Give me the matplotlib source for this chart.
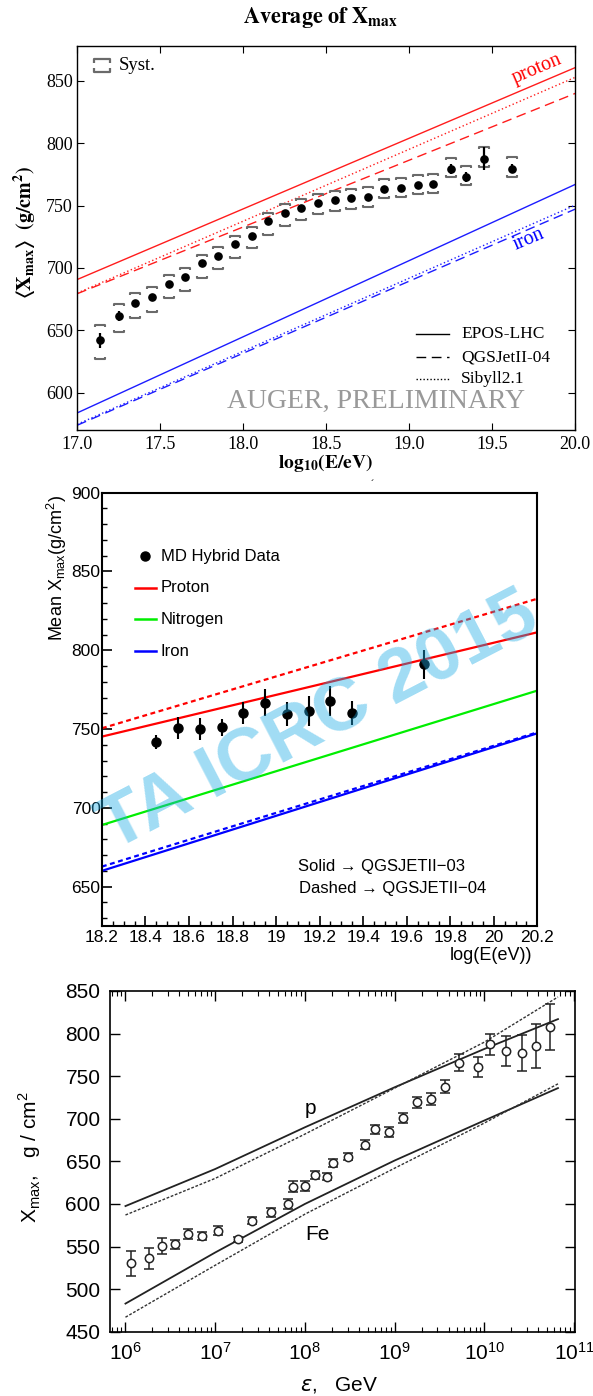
import numpy as np
import matplotlib
matplotlib.use("Agg")
import matplotlib.pyplot as plt
from matplotlib.path import Path
from matplotlib.lines import Line2D
from matplotlib.ticker import MultipleLocator, LogLocator, NullFormatter

plt.rcParams['font.family'] = ['Liberation Sans', 'DejaVu Sans']
SERIF = ['Liberation Serif', 'DejaVu Serif']

# ---------------- Auger: average Xmax ----------------
auger_lgE = [17.14, 17.25, 17.35, 17.45, 17.55, 17.65, 17.75, 17.85, 17.95, 18.05,
             18.15, 18.25, 18.35, 18.45, 18.55, 18.65, 18.75, 18.85, 18.95, 19.05,
             19.14, 19.25, 19.34, 19.45, 19.62]
auger_xmax = [641.8, 661.3, 672.0, 676.8, 687.0, 693.1, 703.6, 709.7, 718.8, 726.0,
              737.6, 744.3, 748.0, 752.3, 754.4, 756.0, 757.0, 763.5, 764.3, 766.2,
              767.0, 779.3, 773.2, 787.6, 779.6]
auger_stat = [6, 4, 2.5, 2.5, 2, 2, 2, 2, 2, 2, 2, 2, 2, 2, 2, 2, 2, 2, 2, 2.5,
              2.5, 4, 4, 9, 3.5]
auger_syst_hi = [654, 670.7, 680, 684.3, 694, 700, 710.3, 716.7, 725.8, 733,
                 744, 751, 755, 759.3, 761.4, 763.5, 764.6, 771, 771.8, 774.2,
                 775, 788, 781.5, 797, 789.2]
auger_syst_lo = [627, 648.7, 660, 664.8, 675.5, 681.6, 692.3, 698.8, 708, 715.6,
                 726.6, 733.3, 738.6, 743.5, 745.6, 747.5, 749, 755.8, 757, 759.3,
                 759.8, 772.6, 766.2, 781.2, 772.6]
auger_model_E = [17.0, 20.0]
proton_epos = [690.7, 860.7]
proton_qgsjet = [679.3, 840.0]
proton_sibyll = [679.8, 852.9]
iron_epos = [583.7, 767.0]
iron_qgsjet = [573.8, 747.2]
iron_sibyll = [574.6, 750.4]
auger_xticks = [17.0, 17.5, 18.0, 18.5, 19.0, 19.5, 20.0]
auger_xticklabels = ['17.0', '17.5', '18.0', '18.5', '19.0', '19.5', '20.0']
auger_yticks = [600, 650, 700, 750, 800, 850]
auger_yticklabels = ['600', '650', '700', '750', '800', '850']
auger_models = ['EPOS-LHC', 'QGSJetII-04', 'Sibyll2.1']

# ---------------- TA: mean Xmax ----------------
ta_lgE = [18.45, 18.55, 18.65, 18.75, 18.85, 18.95, 19.05, 19.15, 19.25, 19.35, 19.68]
ta_xmax = [742.0, 750.5, 750.0, 751.0, 760.0, 766.8, 759.6, 761.3, 768.0, 760.0, 791.0]
ta_err = [4.5, 7, 7, 5.5, 7, 8.5, 7.5, 9.5, 9.5, 7.5, 9]
ta_model_E = [18.2, 20.2]
ta_proton_03 = [745.2, 811.4]
ta_proton_04 = [750.5, 832.7]
ta_nitrogen_03 = [689.1, 774.4]
ta_iron_03 = [660.0, 747.3]
ta_iron_04 = [662.7, 747.9]
ta_xticks = [18.2, 18.4, 18.6, 18.8, 19.0, 19.2, 19.4, 19.6, 19.8, 20.0, 20.2]
ta_xticklabels = ['18.2', '18.4', '18.6', '18.8', '19', '19.2', '19.4', '19.6',
                  '19.8', '20', '20.2']
ta_yticks = [650, 700, 750, 800, 850, 900]
ta_yticklabels = ['650', '700', '750', '800', '850', '900']
ta_species = ['Proton', 'Nitrogen', 'Iron']

# ---------------- Xmax vs energy (GeV) ----------------
eps_lgE = [6.064, 6.259, 6.412, 6.552, 6.692, 6.857, 7.031, 7.252, 7.409, 7.621,
           7.808, 7.868, 8.003, 8.11, 8.241, 8.317, 8.475, 8.666, 8.78, 8.937,
           9.09, 9.247, 9.404, 9.557, 9.722, 9.926, 10.062, 10.236, 10.414, 10.58,
           10.733]
eps_xmax = [530.2, 536.0, 550.6, 552.5, 564.7, 562.7, 568.6, 558.4, 580.3, 590.1,
            599.9, 620.3, 621.4, 634.3, 632.0, 648.4, 655.5, 669.6, 687.6, 684.4,
            700.5, 719.3, 722.8, 737.7, 765.9, 761.2, 787.4, 779.5, 777.6, 785.4,
            808.1]
eps_err = [15, 12, 9, 5.5, 5.7, 4.5, 5, 3, 4, 5,
           6, 6.7, 5.7, 4.5, 4, 4.7, 4.5, 5.5, 5.3, 5.9,
           5.9, 6.8, 7, 7.8, 9.8, 11.7, 12.7, 17.6, 21, 26,
           27]
eps_model_lgE = [6.0, 7.0, 8.0, 9.0, 10.0, 10.82]
eps_p_solid = [597.5, 641.0, 690.0, 737.0, 782.0, 817.0]
eps_p_dotted = [587.0, 630.0, 682.0, 736.0, 790.0, 843.0]
eps_fe_solid = [483.0, 543.0, 600.0, 651.0, 698.0, 736.0]
eps_fe_dotted = [467.0, 528.0, 588.0, 642.0, 695.0, 741.0]
eps_xticks = [1e6, 1e7, 1e8, 1e9, 1e10, 1e11]
eps_xticklabels = [r'$\mathregular{10^{6}}$', r'$\mathregular{10^{7}}$',
                   r'$\mathregular{10^{8}}$', r'$\mathregular{10^{9}}$',
                   r'$\mathregular{10^{10}}$', r'$\mathregular{10^{11}}$']
eps_yticks = [450, 500, 550, 600, 650, 700, 750, 800, 850]
eps_yticklabels = ['450', '500', '550', '600', '650', '700', '750', '800', '850']

W, H = 593, 1396
fig = plt.figure(figsize=(W / 100, H / 100), dpi=100)


def box(l, t, r, b):
    return [l / W, 1 - b / H, (r - l) / W, (b - t) / H]


def fx(x):
    return x / W


def fy(y):
    return 1 - y / H


# =============== panel 1 ===============
ax1 = fig.add_axes(box(77.2, 46, 575.3, 430))
ax1.set_xlim(17.0, 20.0)
ax1.set_ylim(570, 878)
ax1.set_xticks(auger_xticks, auger_xticklabels, family=SERIF, fontsize=13)
ax1.set_yticks(auger_yticks, auger_yticklabels, family=SERIF, fontsize=13)
ax1.tick_params(direction='in', length=5, width=0.8, top=True, right=True)
ax1.tick_params(axis='x', pad=4)
ax1.tick_params(axis='y', pad=3)
for s in ax1.spines.values():
    s.set_linewidth(1.0)

red = '#ff1c1c'
blue = '#1c1cff'
ax1.plot(auger_model_E, proton_epos, color=red, lw=1.0)
ax1.plot(auger_model_E, proton_qgsjet, color=red, lw=1.0, dashes=(7, 4))
ax1.plot(auger_model_E, proton_sibyll, color=red, lw=1.0, dashes=(1, 1.8))
ax1.plot(auger_model_E, iron_epos, color=blue, lw=1.0)
ax1.plot(auger_model_E, iron_qgsjet, color=blue, lw=1.0, dashes=(7, 4))
ax1.plot(auger_model_E, iron_sibyll, color=blue, lw=1.0, dashes=(1, 1.8))

top_bracket = Path([(-1, -0.5), (-1, 0), (1, 0), (1, -0.5)],
                   [Path.MOVETO, Path.LINETO, Path.LINETO, Path.LINETO])
bot_bracket = Path([(-1, 0.5), (-1, 0), (1, 0), (1, 0.5)],
                   [Path.MOVETO, Path.LINETO, Path.LINETO, Path.LINETO])
syst_col = '#6a6a6a'
ax1.plot(auger_lgE, auger_syst_hi, ls='none', marker=top_bracket, ms=7,
         mfc='none', mec=syst_col, mew=1.5)
ax1.plot(auger_lgE, auger_syst_lo, ls='none', marker=bot_bracket, ms=7,
         mfc='none', mec=syst_col, mew=1.5)
ax1.errorbar(auger_lgE, auger_xmax, yerr=auger_stat, fmt='o', color='black',
             ms=5.2, elinewidth=1.6, capsize=0, zorder=5)

# systematic legend entry
ax1.plot([0.05], [0.966], transform=ax1.transAxes, marker=top_bracket, ms=12,
         mfc='none', mec=syst_col, mew=1.6, ls='none', clip_on=False)
ax1.plot([0.05], [0.933], transform=ax1.transAxes, marker=bot_bracket, ms=12,
         mfc='none', mec=syst_col, mew=1.6, ls='none', clip_on=False)
fig.text(fx(119), fy(66), 'Syst.', family=SERIF, fontsize=13.5, va='center')

# model legend
for name, yy, style in zip(auger_models, [334, 357, 379],
                           [dict(), dict(dashes=(7, 4)), dict(dashes=(1, 1.5))]):
    fig.add_artist(Line2D([fx(415.6), fx(448.7)], [fy(yy), fy(yy)], color='black',
                          lw=1.0, **style))
    fig.text(fx(461), fy(yy), name, family=SERIF, fontsize=12.5, va='center')

fig.text(fx(537), fy(69), 'proton', family=SERIF, fontsize=14.5, color='red',
         rotation=23, ha='center', va='center')
fig.text(fx(529), fy(240), 'iron', family=SERIF, fontsize=14.5, color='blue',
         rotation=23, ha='center', va='center')
fig.text(fx(375.7), fy(401), 'AUGER, PRELIMINARY', family=SERIF, fontsize=20,
         color='#999999', ha='center', va='center')

fig.text(fx(320), fy(17), r'$\mathbf{Average\ of\ X_{max}}$', math_fontfamily='stix',
         fontsize=16, ha='center', va='center')
fig.text(fx(326), fy(463), r'$\mathbf{log_{10}(E/eV)}$', math_fontfamily='stix',
         fontsize=14, ha='center', va='center')
fig.text(fx(25), fy(232), r'$\mathbf{\langle X_{max}\rangle\ \ (g/cm^{2})}$',
         math_fontfamily='stix', fontsize=14.5, rotation=90, ha='center', va='center')

# =============== panel 2 ===============
ax2 = fig.add_axes(box(101.9, 492.7, 537.3, 926))
ax2.set_xlim(18.2, 20.2)
ax2.set_ylim(625, 900)
ax2.set_xticks(ta_xticks, ta_xticklabels, fontsize=12.5)
ax2.set_yticks(ta_yticks, ta_yticklabels, fontsize=12.5)
ax2.xaxis.set_minor_locator(MultipleLocator(0.05))
ax2.yaxis.set_minor_locator(MultipleLocator(10))
ax2.tick_params(which='major', direction='in', length=7, width=1.2)
ax2.tick_params(which='minor', direction='in', length=3.5, width=1.0)
ax2.tick_params(axis='x', pad=3)
ax2.tick_params(axis='y', pad=1)
for s in ax2.spines.values():
    s.set_linewidth(1.5)

ax2.plot(ta_model_E, ta_proton_03, color='#ff0000', lw=1.6)
ax2.plot(ta_model_E, ta_proton_04, color='#ff0000', lw=1.6, dashes=(2.2, 1.6))
ax2.plot(ta_model_E, ta_nitrogen_03, color='#00ee00', lw=1.6)
ax2.plot(ta_model_E, ta_iron_03, color='#0000ff', lw=1.6)
ax2.plot(ta_model_E, ta_iron_04, color='#0000ff', lw=1.6, dashes=(2.2, 1.6))
ax2.errorbar(ta_lgE, ta_xmax, yerr=ta_err, fmt='o', color='black', ms=6.5,
             elinewidth=1.5, capsize=0, zorder=5)

fig.add_artist(Line2D([fx(144.5)], [fy(556)], marker='o', color='black', ms=6.5))
fig.text(fx(160.5), fy(556), 'MD Hybrid Data', fontsize=12, va='center')
for name, yy, col in zip(ta_species, [587.7, 619.3, 651],
                         ['#ff0000', '#00ee00', '#0000ff']):
    fig.add_artist(Line2D([fx(135), fx(156)], [fy(yy), fy(yy)], color=col, lw=1.8))
    fig.text(fx(160.5), fy(yy), name, fontsize=12, va='center')

fig.text(fx(297.7), fy(866), 'Solid \u2192 QGSJETII\u221203', fontsize=12, va='center')
fig.text(fx(298.5), fy(889), 'Dashed \u2192 QGSJETII\u221204', fontsize=12, va='center')

fig.text(fx(532), fy(955), 'log(E(eV))', fontsize=13, ha='right', va='center')
fig.text(fx(57), fy(495), r'Mean X$_{\mathregular{max}}$(g/cm$^{\mathregular{2}}$)',
         fontsize=13, rotation=90, ha='center', va='top')
fig.text(fx(372.6), fy(485), '\u00b4', fontsize=8, ha='center', va='center')

fig.text(fx(319), fy(722), 'TA ICRC 2015', fontsize=54, fontweight='bold',
         color=(30 / 255, 172 / 255, 230 / 255), alpha=0.42, rotation=27.4,
         ha='center', va='center', rotation_mode='anchor', zorder=10)

# =============== panel 3 ===============
ax3 = fig.add_axes(box(110.3, 991, 575.3, 1331.7))
ax3.set_xscale('log')
ax3.set_xlim(10 ** 5.831, 10 ** 11.013)
ax3.set_ylim(450, 850)
ax3.set_xticks(eps_xticks, eps_xticklabels, fontsize=15)
ax3.set_yticks(eps_yticks, eps_yticklabels, fontsize=15)
ax3.xaxis.set_minor_locator(LogLocator(base=10, subs=np.arange(2, 10)))
ax3.xaxis.set_minor_formatter(NullFormatter())
ax3.tick_params(which='major', direction='in', length=7, width=1.0, top=True, right=True)
ax3.tick_params(which='minor', direction='in', length=3.5, width=0.8, top=True, right=True)
ax3.tick_params(axis='x', pad=7)
ax3.tick_params(axis='y', pad=7)
for s in ax3.spines.values():
    s.set_linewidth(1.2)

model_x = 10 ** np.array(eps_model_lgE)
ax3.plot(model_x, eps_p_solid, color='#222222', lw=1.3)
ax3.plot(model_x, eps_p_dotted, color='#333333', lw=1.0, dashes=(2.0, 1.2))
ax3.plot(model_x, eps_fe_solid, color='#222222', lw=1.3)
ax3.plot(model_x, eps_fe_dotted, color='#333333', lw=1.0, dashes=(2.0, 1.2))
ax3.errorbar(10 ** np.array(eps_lgE), eps_xmax, yerr=eps_err, fmt='o',
             color='#222222', mfc='white', mec='#222222', ms=6, mew=1.1,
             elinewidth=1.1, capsize=3.6, capthick=1.1, zorder=5)

fig.text(fx(310.6), fy(1109), 'p', fontsize=15, ha='center', va='center')
fig.text(fx(317.5), fy(1235), 'Fe', fontsize=15, ha='center', va='center')
fig.text(fx(339.5), fy(1385), r'$\varepsilon$,   GeV', math_fontfamily='dejavusans',
         fontsize=15, ha='center', va='center')
fig.text(fx(30), fy(1157), r'X$_{\mathregular{max}}$,   g / cm$^{\mathregular{2}}$',
         fontsize=15, rotation=90, ha='center', va='center')

fig.savefig('out.png', dpi=100)
